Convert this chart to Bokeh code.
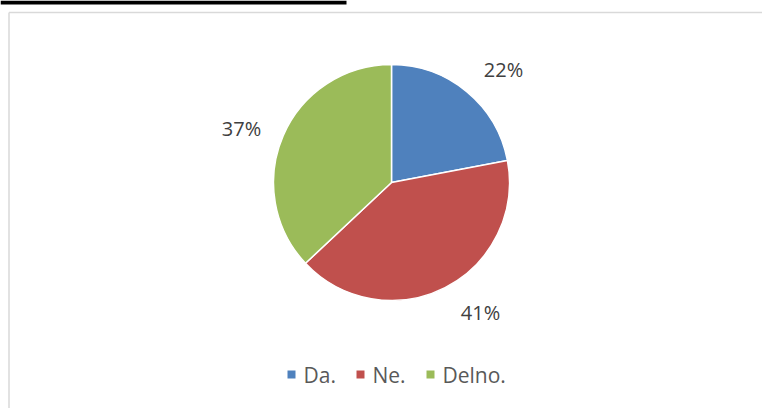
import math
from bokeh.plotting import figure
from bokeh.models import Range1d, ColumnDataSource
from bokeh.core.properties import value
from bokeh.embed import file_html
from bokeh.resources import INLINE

# ---- data ----
categories = ["Da.", "Ne.", "Delno."]
shares = [22, 41, 37]
labels = ["22%", "41%", "37%"]
colors = ["#4F81BD", "#C0504D", "#9BBB59"]

# ---- layout (page pixels) ----
W, H = 762, 408
cx, cy, r = 391, 182, 118
label_pos = [(503, 69), (480, 312), (241, 128)]
legend_sq_x = [291, 360, 430]
legend_tx_x = [303, 372, 442]
legend_y = 374
OX, OY = 0, 0  # figure origin in the picture

def X(px):
    return px - OX

def Y(py):
    return H - (py - OY)

p = figure(width=W, height=H, output_backend="svg", toolbar_location=None,
           x_range=Range1d(0, W), y_range=Range1d(0, H), min_border=0)
p.axis.visible = False
p.grid.visible = False
p.outline_line_color = None
p.background_fill_color = "white"
p.border_fill_color = "white"

# black bar at top-left and chart frame
p.quad(left=[X(0)], right=[X(346)], top=[Y(0)], bottom=[Y(4)], fill_color="black", line_color=None)
p.segment(x0=[X(8.5), X(8.5)], y0=[Y(12), Y(12)], x1=[W, X(8.5)], y1=[Y(12), 0],
          line_color="#d9d9d9", line_width=1.5)

# pie
total = sum(shares)
starts, ends = [], []
acc = 0.0
for s in shares:
    starts.append(math.pi / 2 - 2 * math.pi * acc / total)
    acc += s
    ends.append(math.pi / 2 - 2 * math.pi * acc / total)
src = ColumnDataSource(dict(start=starts, end=ends, color=colors, cat=categories))
p.wedge(x=X(cx), y=Y(cy), radius=r, start_angle="start", end_angle="end",
        direction="clock", fill_color="color", line_color="white", line_width=1.5,
        source=src)

# percent labels
p.text(x=[X(lp[0]) for lp in label_pos], y=[Y(lp[1]) for lp in label_pos], text=labels,
       text_font=value("Open Sans"), text_font_size="20px", text_color="#404040",
       text_align="center", text_baseline="middle")

# legend
p.rect(x=[X(v) for v in legend_sq_x], y=[Y(legend_y)] * 3, width=8, height=8,
       fill_color=colors, line_color=None)
p.text(x=[X(v) for v in legend_tx_x], y=[Y(legend_y)] * 3, text=categories,
       text_font=value("Open Sans"), text_font_size="21px", text_color="#595959",
       text_align="left", text_baseline="middle")

open("out.html", "w").write(file_html(p, INLINE))
